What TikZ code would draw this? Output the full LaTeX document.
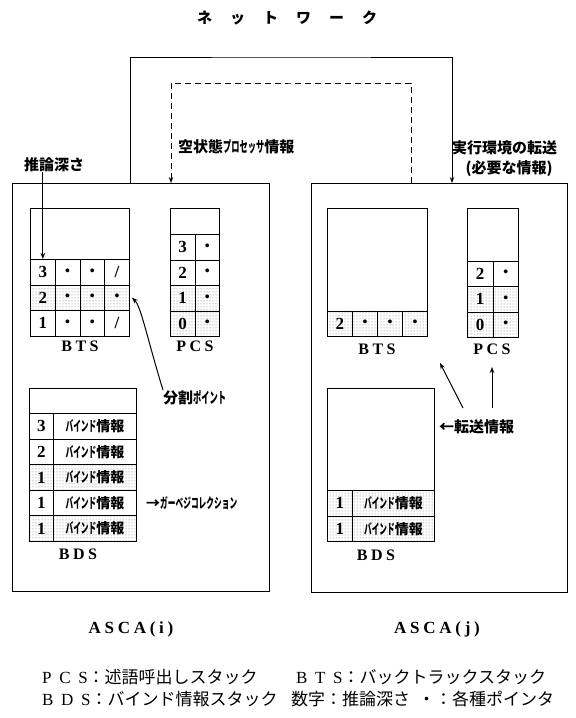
\documentclass[tikz,border=0pt]{standalone}
\usepackage{fontspec}
\setmainfont{Liberation Serif}
\newfontfamily\jp{Noto Sans CJK JP}
\newfontfamily\spc[LetterSpace=22]{Liberation Serif}
\newfontfamily\spcw[LetterSpace=45]{Liberation Serif}
\usetikzlibrary{arrows.meta,patterns}
\newcommand\dt{\fontsize{14}{14}\selectfont\textbullet}
\newcommand\hw[1]{\scalebox{0.55}[1]{#1}}
\tikzset{
  frame/.style={draw, line width=1.1pt, anchor=north west, inner sep=0pt},
  cell/.style={draw, line width=0.9pt, anchor=north west, inner sep=0pt,
    minimum height=25.5pt, font=\bfseries\fontsize{17}{17}\selectfont},
  shaded/.style={pattern=dots, pattern color=black!55},
  arr/.style={-{Stealth[length=6pt,width=4.5pt]}, line width=1pt},
  jlabel/.style={font=\jp\bfseries\fontsize{15}{15}\selectfont, inner sep=0pt},
  jsmall/.style={font=\jp\bfseries\fontsize{14}{14}\selectfont, inner sep=0pt},
  slabel/.style={font=\spc\bfseries\fontsize{16}{16}\selectfont, inner sep=0pt},
  legend/.style={font=\jp\fontsize{17}{17}\selectfont, inner sep=0pt, anchor=west}
}
\begin{document}
\begin{tikzpicture}[x=1pt,y=-1pt]
\useasboundingbox (0,0) rectangle (576,718);

% title
\node[jlabel] (net) at (287,18) {ネ\hspace{18pt}ッ\hspace{18pt}ト\hspace{18pt}ワ\hspace{18pt}ー\hspace{18pt}ク};

% processor boxes
\node[frame, minimum width=257pt, minimum height=408pt] (asca1) at (12,183) {};
\node[frame, minimum width=256pt, minimum height=409pt] (asca2) at (311,183) {};

% network connectors
\coordinate (s0) at (130,183);
\coordinate (s1) at (452,183);
\coordinate (stop) at (291,57);
\draw[arr] (s0) |- (stop) -| (s1);
\coordinate (d0) at (411,183);
\coordinate (d1) at (171,183);
\coordinate (dtop) at (291,83);
\draw[arr, dash pattern=on 6pt off 4pt] (d0) |- (dtop) -| (d1);

\node[jlabel, anchor=west] (kuu) at (178,147) {空状態\hw{プロセッサ}情報};
\node[jlabel, anchor=west] (jikkou) at (452,148) {実行環境の転送};
\node[jlabel] (hitsuyou) at (509,169) {(必要な情報)};

% ---------- ASCA(i) ----------
% BTS
\node[frame, line width=0.9pt, minimum width=99pt, minimum height=51pt] (lbtop) at (30,208) {};
\node[cell, minimum width=24.75pt] (lb31) at (30,259) {3};
\node[cell, minimum width=24.75pt] (lb32) at (54.75,259) {\dt};
\node[cell, minimum width=24.75pt] (lb33) at (79.5,259) {\dt};
\node[cell, minimum width=24.75pt] (lb34) at (104.25,259) {/};
\node[cell, shaded, minimum width=24.75pt] (lb21) at (30,284.5) {2};
\node[cell, shaded, minimum width=24.75pt] (lb22) at (54.75,284.5) {\dt};
\node[cell, shaded, minimum width=24.75pt] (lb23) at (79.5,284.5) {\dt};
\node[cell, shaded, minimum width=24.75pt] (lb24) at (104.25,284.5) {\dt};
\node[cell, minimum width=24.75pt] (lb11) at (30,310) {1};
\node[cell, minimum width=24.75pt] (lb12) at (54.75,310) {\dt};
\node[cell, minimum width=24.75pt] (lb13) at (79.5,310) {\dt};
\node[cell, minimum width=24.75pt] (lb14) at (104.25,310) {/};
\node[slabel] (lbtsl) at (80,346) {BTS};

% PCS
\node[frame, line width=0.9pt, minimum width=49pt, minimum height=26pt] (lptop) at (170,208) {};
\node[cell, minimum width=24.5pt] (lp31) at (170,234) {3};
\node[cell, minimum width=24.5pt] (lp32) at (194.5,234) {\dt};
\node[cell, minimum width=24.5pt] (lp21) at (170,259.5) {2};
\node[cell, minimum width=24.5pt] (lp22) at (194.5,259.5) {\dt};
\node[cell, shaded, minimum width=24.5pt] (lp11) at (170,285) {1};
\node[cell, shaded, minimum width=24.5pt] (lp12) at (194.5,285) {\dt};
\node[cell, shaded, minimum width=24.5pt] (lp01) at (170,310.5) {0};
\node[cell, shaded, minimum width=24.5pt] (lp02) at (194.5,310.5) {\dt};
\node[slabel] (lpcsl) at (195,346) {PCS};

% depth arrow
\node[jlabel] (suiron) at (54,165) {推論深さ};
\draw[arr] (suiron.south -| lb31.north) -- (lb31.north);

% split point
\node[jlabel, anchor=north west] (bunkatsu) at (163,390) {分割\hw{ポイント}};
\draw[arr] (bunkatsu.north west) .. controls (147,338) and (141,306) .. ([xshift=2pt]lb24.east);

% BDS
\node[frame, line width=0.9pt, minimum width=107pt, minimum height=25pt] (ldtop) at (29,388) {};
\node[cell, minimum width=24pt, minimum height=25.6pt] (ld51) at (29,413) {3};
\node[cell, jsmall, minimum width=83pt, minimum height=25.6pt] (ld52) at (53,413) {\hw{バインド}情報};
\node[cell, minimum width=24pt, minimum height=25.6pt] (ld41) at (29,438.6) {2};
\node[cell, jsmall, minimum width=83pt, minimum height=25.6pt] (ld42) at (53,438.6) {\hw{バインド}情報};
\node[cell, shaded, minimum width=24pt, minimum height=25.6pt] (ld31) at (29,464.2) {1};
\node[cell, shaded, jsmall, minimum width=83pt, minimum height=25.6pt] (ld32) at (53,464.2) {\hw{バインド}情報};
\node[cell, minimum width=24pt, minimum height=25.6pt] (ld21) at (29,489.8) {1};
\node[cell, jsmall, minimum width=83pt, minimum height=25.6pt] (ld22) at (53,489.8) {\hw{バインド}情報};
\node[cell, shaded, minimum width=24pt, minimum height=25.6pt] (ld11) at (29,515.4) {1};
\node[cell, shaded, jsmall, minimum width=83pt, minimum height=25.6pt] (ld12) at (53,515.4) {\hw{バインド}情報};
\node[slabel] (lbdsl) at (78,554) {BDS};
\node[jsmall, anchor=west] (gc) at (146,502.6) {→\hw{ガーベジコレクション}};

% ---------- ASCA(j) ----------
% BTS
\node[frame, line width=0.9pt, minimum width=100pt, minimum height=102.5pt] (rbtop) at (327,208) {};
\node[cell, shaded, minimum width=25pt] (rb21) at (327,310.5) {2};
\node[cell, shaded, minimum width=25pt] (rb22) at (352,310.5) {\dt};
\node[cell, shaded, minimum width=25pt] (rb23) at (377,310.5) {\dt};
\node[cell, shaded, minimum width=25pt] (rb24) at (402,310.5) {\dt};
\node[slabel] (rbtsl) at (377,349) {BTS};

% PCS
\node[frame, line width=0.9pt, minimum width=51pt, minimum height=52.5pt] (rptop) at (467,208) {};
\node[cell, minimum width=25.5pt] (rp21) at (467,260.5) {2};
\node[cell, minimum width=25.5pt] (rp22) at (492.5,260.5) {\dt};
\node[cell, shaded, minimum width=25.5pt] (rp11) at (467,286) {1};
\node[cell, shaded, minimum width=25.5pt] (rp12) at (492.5,286) {\dt};
\node[cell, shaded, minimum width=25.5pt] (rp01) at (467,311.5) {0};
\node[cell, shaded, minimum width=25.5pt] (rp02) at (492.5,311.5) {\dt};
\node[slabel] (rpcsl) at (492,349) {PCS};

% BDS
\node[frame, line width=0.9pt, minimum width=107pt, minimum height=102pt] (rdtop) at (327,388) {};
\node[cell, shaded, minimum width=25pt, minimum height=25.5pt] (rd21) at (327,490) {1};
\node[cell, shaded, jsmall, minimum width=82pt, minimum height=25.5pt] (rd22) at (352,490) {\hw{バインド}情報};
\node[cell, shaded, minimum width=25pt, minimum height=25.5pt] (rd11) at (327,515.5) {1};
\node[cell, shaded, jsmall, minimum width=82pt, minimum height=25.5pt] (rd12) at (352,515.5) {\hw{バインド}情報};
\node[slabel] (rbdsl) at (376,555) {BDS};

% transfer info
\node[jlabel, anchor=west] (tensou) at (439,427) {←転送情報};
\coordinate (t1s) at (463,408);
\coordinate (t1e) at (440,363);
\coordinate (t2s) at (492,408);
\coordinate (t2e) at (492,367);
\draw[arr] (t1s) -- (t1e);
\draw[arr] (t2s) -- (t2e);

% processor names
\node[slabel, font=\spc\bfseries\fontsize{17}{17}\selectfont] (n1) at (131,629) {ASCA(i)};
\node[slabel, font=\spc\bfseries\fontsize{17}{17}\selectfont] (n2) at (437,629) {ASCA(j)};

% legend
\node[legend] (leg1) at (42,677) {{\spcw PCS}：述語呼出しスタック};
\node[legend] (leg2) at (296,677) {{\spcw BTS}：バックトラックスタック};
\node[legend] (leg3) at (42,699) {{\spcw BDS}：バインド情報スタック};
\node[legend] (leg4) at (291,699) {数字：推論深さ\hspace{8pt}・：各種ポインタ};
\end{tikzpicture}
\end{document}
